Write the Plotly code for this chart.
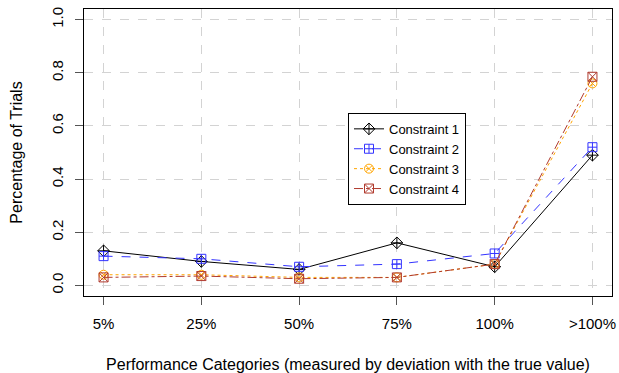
import plotly.graph_objects as go

categories = ["5%", "25%", "50%", "75%", "100%", ">100%"]
c1 = [0.13, 0.09, 0.06, 0.16, 0.07, 0.49]
c2 = [0.11, 0.10, 0.07, 0.08, 0.12, 0.52]
c3 = [0.04, 0.04, 0.03, 0.03, 0.08, 0.76]
c4 = [0.03, 0.035, 0.025, 0.03, 0.08, 0.785]
names = ["Constraint 1", "Constraint 2", "Constraint 3", "Constraint 4"]
colors = ["black", "#3333ff", "#ffa500", "#b03a2e"]
dashes = ["solid", "dash", "dot", "dashdot"]
symbols = ["diamond-cross-open", "square-cross-open", "circle-x-open", "square-x-open"]

x = list(range(len(categories)))
fig = go.Figure()
for vals, n, c, d, s in zip([c1, c2, c3, c4], names, colors, dashes, symbols):
    fig.add_trace(go.Scatter(
        x=x, y=vals, name=n, mode="lines+markers",
        line=dict(color=c, width=1, dash=d),
        marker=dict(symbol=s, size=9, color=c, line=dict(color=c, width=1)),
    ))

font = "Liberation Sans, Arial, sans-serif"
fig.update_layout(
    width=619, height=373,
    margin=dict(l=84, r=7, t=9, b=77),
    paper_bgcolor="white", plot_bgcolor="white",
    font=dict(family=font, size=13, color="black"),
    showlegend=True,
    legend=dict(x=0.5, y=0.638, xanchor="left", yanchor="top",
                bordercolor="black", borderwidth=1, bgcolor="white",
                font=dict(size=13), tracegroupgap=0, itemwidth=30),
    xaxis=dict(
        range=[-0.2, 5.2], tickmode="array", tickvals=x, ticktext=categories,
        tickfont=dict(size=15), ticklabelstandoff=6, automargin=False,
        showline=True, linecolor="black", linewidth=1, mirror=True,
        ticks="outside", ticklen=8, tickcolor="#555", zeroline=False,
        showgrid=True, gridcolor="#d3d3d3", griddash="dash", gridwidth=1,
        title=dict(text="Performance Categories (measured by deviation with the true value)",
                   standoff=28),
    ),
    yaxis=dict(
        range=[-0.04, 1.04], tickmode="array", tickvals=[0, 0.2, 0.4, 0.6, 0.8, 1.0],
        ticktext=["0.0", "0.2", "0.4", "0.6", "0.8", "1.0"], tickangle=-90,
        tickfont=dict(size=15), ticklabelstandoff=6, automargin=False,
        showline=True, linecolor="black", linewidth=1, mirror=True,
        ticks="outside", ticklen=8, tickcolor="#555", zeroline=False,
        showgrid=True, gridcolor="#d3d3d3", griddash="dash", gridwidth=1,
        title=dict(text="Percentage of Trials", standoff=22),
    ),
)
fig.write_html("out.html")
